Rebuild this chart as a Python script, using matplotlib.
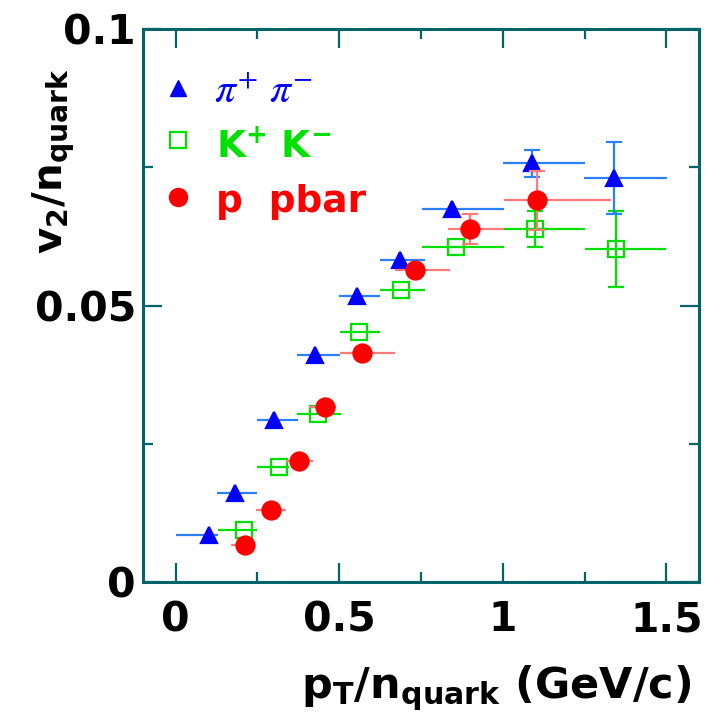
import matplotlib
matplotlib.use('Agg')
import matplotlib.pyplot as plt

# v2 / n_quark vs pT / n_quark
# pions
pi_x = [0.101, 0.181, 0.301, 0.427, 0.553, 0.686, 0.844, 1.090, 1.341]
pi_y = [0.0085, 0.0161, 0.0293, 0.0410, 0.0517, 0.0582, 0.0674, 0.0757, 0.0730]
pi_lo = [0.0, 0.126, 0.249, 0.372, 0.500, 0.624, 0.752, 1.000, 1.247]
pi_hi = [0.130, 0.249, 0.375, 0.501, 0.624, 0.762, 1.005, 1.250, 1.502]
pi_yerr = [0, 0, 0, 0, 0, 0, 0, 0.0025, 0.0065]

# kaons
k_x = [0.209, 0.317, 0.434, 0.559, 0.689, 0.858, 1.100, 1.346]
k_y = [0.0094, 0.0208, 0.0303, 0.0452, 0.0528, 0.0605, 0.0638, 0.0602]
k_lo = [0.130, 0.250, 0.371, 0.501, 0.624, 0.752, 1.005, 1.250]
k_hi = [0.250, 0.347, 0.504, 0.626, 0.762, 1.005, 1.250, 1.500]
k_yerr = [0, 0, 0, 0, 0, 0, 0.0033, 0.0068]

# protons
p_x = [0.212, 0.291, 0.376, 0.455, 0.571, 0.732, 0.901, 1.106]
p_y = [0.0067, 0.0130, 0.0219, 0.0317, 0.0414, 0.0564, 0.0638, 0.0690]
p_lo = [0.168, 0.245, 0.337, 0.409, 0.501, 0.670, 0.834, 1.003]
p_hi = [0.240, 0.337, 0.419, 0.491, 0.670, 0.839, 1.003, 1.331]
p_yerr = [0, 0, 0, 0, 0, 0, 0.0027, 0.0053]

xticks = [0, 0.5, 1, 1.5]
xticklabels = ['0', '0.5', '1', '1.5']
yticks = [0, 0.05, 0.1]
yticklabels = ['0', '0.05', '0.1']

TEAL = '#006468'
FONT = 'DejaVu Sans'

fig = plt.figure(figsize=(7.18, 7.17), dpi=100)
ax = fig.add_axes([143 / 718, (717 - 582) / 717, 556 / 718, 553 / 717])


def draw_set(x, y, lo, hi, yerr, marker, mcolor, ecolor, mfc, ms):
    xerr = [[xi - l for xi, l in zip(x, lo)], [h - xi for xi, h in zip(x, hi)]]
    ax.errorbar(x, y, xerr=xerr, fmt='none', ecolor=ecolor, elinewidth=1.6, capsize=0)
    # vertical errors only where they stick out of the marker
    xs = [xi for xi, e in zip(x, yerr) if e > 0]
    ys = [yi for yi, e in zip(y, yerr) if e > 0]
    es = [e for e in yerr if e > 0]
    ax.errorbar(xs, ys, yerr=es, fmt='none', ecolor=ecolor, elinewidth=1.6,
                capsize=6, capthick=1.6)
    ax.plot(x, y, linestyle='none', marker=marker, color=mcolor, mfc=mfc,
            mec=mcolor, ms=ms, mew=1.6)


draw_set(k_x, k_y, k_lo, k_hi, k_yerr, 's', '#00e000', '#00e000', 'none', 11)
draw_set(pi_x, pi_y, pi_lo, pi_hi, pi_yerr, '^', '#0000ff', '#2a80ff', '#0000ff', 12)
draw_set(p_x, p_y, p_lo, p_hi, p_yerr, 'o', '#ff0000', '#ff7a7a', '#ff0000', 13)

ax.set_xlim(-0.1, 1.6)
ax.set_ylim(0, 0.1)
ax.set_xticks(xticks)
ax.set_xticklabels(xticklabels)
ax.set_xticks([0.25, 0.75, 1.25], minor=True)
ax.set_yticks(yticks)
ax.set_yticklabels(yticklabels)
ax.set_yticks([0.025, 0.075], minor=True)
ax.tick_params(which='both', direction='in', top=True, right=True,
               color=TEAL, width=1.6)
ax.tick_params(which='major', length=14)
ax.tick_params(which='minor', length=7)
ax.tick_params(axis='x', pad=13)
ax.tick_params(axis='y', pad=5)
for lab in ax.get_xticklabels() + ax.get_yticklabels():
    lab.set_fontfamily(FONT)
    lab.set_fontweight('bold')
    lab.set_fontsize(29.5)
for s in ax.spines.values():
    s.set_color(TEAL)
    s.set_linewidth(2.2)

# legend drawn by hand like the original
ax.plot([0.063], [0.893], marker='^', color='#0000ff', ms=12, transform=ax.transAxes, clip_on=False)
ax.plot([0.063], [0.799], marker='s', mfc='none', mec='#00e000', mew=1.6, ms=11,
        transform=ax.transAxes, clip_on=False)
ax.plot([0.063], [0.696], marker='o', color='#ff0000', ms=13, transform=ax.transAxes, clip_on=False)
ax.text(0.128, 0.866, r'$\pi^{+}\ \pi^{-}$', math_fontfamily='stix', color='#0000ff',
        fontsize=30, transform=ax.transAxes, va='baseline')
ax.text(0.131, 0.767, r'$\mathbf{K^{+}\ K^{-}}$', math_fontfamily='dejavusans', color='#00e000',
        fontsize=27, transform=ax.transAxes, va='baseline')
ax.text(0.131, 0.669, 'p  pbar', family=FONT, fontweight='bold', color='#ff0000',
        fontsize=27, transform=ax.transAxes, va='baseline')

# axis titles
fig.text(496 / 718, 1 - 713 / 717, r'$\mathbf{p_{T}/n_{quark}}$ (GeV/c)',
         math_fontfamily='dejavusans', family=FONT, fontweight='bold', fontsize=31,
         ha='center', va='bottom')
fig.text(54 / 718, 1 - 68 / 717, r'$\mathbf{v_{2}/n_{quark}}$',
         math_fontfamily='dejavusans', fontsize=29, rotation=90,
         ha='center', va='top')

plt.savefig('out.png', dpi=100)
